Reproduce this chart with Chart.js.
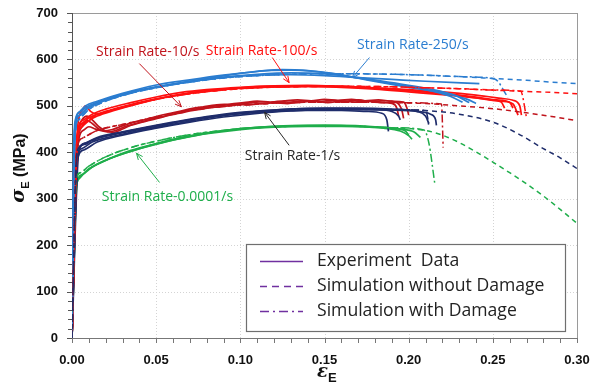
<!DOCTYPE html>
<html>
<head>
<meta charset="utf-8">
<script src="https://cdn.jsdelivr.net/npm/chart.js@4.4.1/dist/chart.umd.min.js"></script>
<style>html,body{margin:0;padding:0;background:#fff}</style>
</head>
<body>
<canvas id="chart" width="597" height="389"></canvas>
<script>
// axes
const xTicks = [0, 0.05, 0.10, 0.15, 0.20, 0.25, 0.30];
const yTicks = [0, 100, 200, 300, 400, 500, 600, 700];

// Strain rate 0.0001/s (green)
const green_exp1 = [[0,0],[0.0024,325],[0.004,342],[0.008,358],[0.015,374],[0.025,390],[0.04,408],[0.055,422],[0.07,434],[0.085,444],[0.1,451],[0.115,455],[0.13,457],[0.15,458],[0.17,456],[0.185,452],[0.195,446],[0.2,436],[0.202,428]];
const green_exp2 = [[0,0],[0.0028,330],[0.005,348],[0.01,364],[0.02,383],[0.035,402],[0.05,418],[0.065,430],[0.08,440],[0.1,449],[0.12,454],[0.14,456],[0.16,456],[0.18,454],[0.195,450],[0.203,444],[0.207,432]];
const green_exp3 = [[0,0],[0.003,335],[0.006,352],[0.012,368],[0.022,386],[0.035,404],[0.05,419],[0.065,432],[0.08,442],[0.1,451],[0.12,456],[0.14,458],[0.16,458],[0.18,455],[0.19,452],[0.198,446],[0.2,437]];
const green_sim = [[0,0],[0.0025,340],[0.005,356],[0.01,370],[0.02,390],[0.035,410],[0.05,424],[0.07,438],[0.09,447],[0.11,453],[0.13,456],[0.15,457],[0.17,456],[0.19,453],[0.21,447],[0.22,437],[0.23,421],[0.24,401],[0.25,379],[0.26,356],[0.27,332],[0.28,306],[0.29,277],[0.30,247]];
const green_dmg = [[0,0],[0.0025,340],[0.005,356],[0.01,370],[0.02,390],[0.035,410],[0.05,424],[0.07,438],[0.09,447],[0.11,453],[0.13,456],[0.15,457],[0.17,456],[0.19,453],[0.209,448],[0.212,420],[0.2155,333]];

// Strain rate 1/s (navy)
const navy_exp1 = [[0,0],[0.003,385],[0.006,408],[0.012,422],[0.025,435],[0.04,447],[0.055,457],[0.07,467],[0.085,476],[0.1,483],[0.12,488],[0.14,490],[0.16,490],[0.175,488],[0.184,484],[0.187,470],[0.188,445]];
const navy_exp2 = [[0,0],[0.0035,395],[0.007,418],[0.015,432],[0.03,444],[0.045,455],[0.06,465],[0.08,477],[0.1,486],[0.12,491],[0.14,494],[0.16,494],[0.18,492],[0.19,488],[0.194,478],[0.195,470]];
const navy_exp3 = [[0,0],[0.004,400],[0.008,420],[0.015,430],[0.03,442],[0.05,456],[0.07,470],[0.09,480],[0.11,488],[0.13,493],[0.15,495],[0.17,495],[0.19,493],[0.205,488],[0.21,478],[0.212,462]];
const navy_exp4 = [[0,0],[0.003,380],[0.007,405],[0.015,422],[0.03,437],[0.05,452],[0.07,465],[0.09,476],[0.11,484],[0.13,489],[0.15,492],[0.17,492],[0.19,491],[0.205,488],[0.213,482],[0.216,470],[0.2165,458]];
const navy_sim = [[0,0],[0.003,400],[0.006,415],[0.015,430],[0.03,443],[0.05,457],[0.07,470],[0.09,480],[0.11,487],[0.13,491],[0.15,493],[0.17,493],[0.19,492],[0.21,490],[0.23,482],[0.25,465],[0.265,440],[0.28,408],[0.29,388],[0.30,365]];
const navy_dmg = [[0,0],[0.003,400],[0.006,415],[0.015,430],[0.03,443],[0.05,457],[0.07,470],[0.09,480],[0.11,487],[0.13,491],[0.15,493],[0.17,493],[0.19,492],[0.21,490],[0.2115,470],[0.212,453]];

// Strain rate 10/s (dark red)
const dred_exp1 = [[0,0],[0.003,420],[0.006,470],[0.009,478],[0.012,470],[0.016,455],[0.02,446],[0.025,443],[0.03,450],[0.036,460],[0.042,466],[0.05,474],[0.055,478],[0.06,482],[0.066,488],[0.072,492],[0.078,496],[0.085,500],[0.092,502],[0.1,504],[0.108,507],[0.115,505],[0.122,509],[0.13,508],[0.138,511],[0.146,509],[0.154,512],[0.162,510],[0.17,513],[0.178,509],[0.186,511],[0.193,507],[0.196,490],[0.197,473]];
const dred_exp2 = [[0,0],[0.003,410],[0.006,455],[0.009,468],[0.012,462],[0.016,450],[0.021,444],[0.026,447],[0.032,456],[0.038,461],[0.045,468],[0.052,474],[0.058,480],[0.064,484],[0.07,489],[0.077,493],[0.084,497],[0.091,499],[0.098,503],[0.105,502],[0.112,505],[0.12,507],[0.128,505],[0.136,508],[0.144,510],[0.152,507],[0.16,510],[0.168,508],[0.176,511],[0.184,507],[0.19,505],[0.193,495],[0.194,478]];
const dred_exp3 = [[0,0],[0.0035,415],[0.007,448],[0.01,455],[0.014,450],[0.019,446],[0.024,449],[0.03,457],[0.036,464],[0.043,470],[0.05,477],[0.057,483],[0.064,488],[0.071,494],[0.078,498],[0.086,502],[0.094,504],[0.102,507],[0.11,510],[0.118,508],[0.126,511],[0.134,513],[0.142,511],[0.15,514],[0.158,512],[0.166,514],[0.174,511],[0.182,513],[0.19,510],[0.197,508],[0.199,495],[0.2,480]];
const dred_sim = [[0,0],[0.003,405],[0.006,430],[0.015,447],[0.03,460],[0.05,476],[0.07,490],[0.09,499],[0.11,504],[0.13,507],[0.15,508],[0.17,508],[0.19,507],[0.21,505],[0.23,500],[0.25,494],[0.27,485],[0.285,477],[0.30,468]];
const dred_dmg = [[0,0],[0.003,405],[0.006,430],[0.015,447],[0.03,460],[0.05,476],[0.07,490],[0.09,499],[0.11,504],[0.13,507],[0.15,508],[0.17,508],[0.19,507],[0.2195,504],[0.2205,410]];

// Strain rate 100/s (red)
const red_exp1 = [[0,0],[0.003,420],[0.006,455],[0.01,468],[0.015,478],[0.025,490],[0.04,505],[0.055,518],[0.07,528],[0.085,534],[0.1,539],[0.115,542],[0.13,543],[0.15,543],[0.17,540],[0.19,536],[0.21,530],[0.23,522],[0.245,515],[0.255,510],[0.262,504],[0.265,480]];
const red_exp2 = [[0,0],[0.003,430],[0.006,462],[0.01,474],[0.02,488],[0.035,503],[0.05,515],[0.065,525],[0.08,532],[0.1,538],[0.12,541],[0.14,542],[0.16,540],[0.18,536],[0.2,530],[0.22,524],[0.24,517],[0.25,512],[0.255,508],[0.257,495]];
const red_exp3 = [[0,0],[0.0035,440],[0.007,470],[0.012,482],[0.02,493],[0.035,507],[0.05,519],[0.065,529],[0.08,535],[0.1,540],[0.12,543],[0.14,544],[0.16,542],[0.18,539],[0.2,535],[0.22,530],[0.24,523],[0.255,516],[0.262,512],[0.266,500],[0.267,480]];
const red_exp4 = [[0,0],[0.003,440],[0.006,490],[0.008,500],[0.011,488],[0.015,482],[0.025,492],[0.04,506],[0.055,518],[0.07,527],[0.085,533],[0.1,538],[0.12,541],[0.14,542],[0.16,541],[0.18,538],[0.2,533],[0.22,527],[0.24,519],[0.252,513],[0.26,508],[0.262,495]];
const red_sim = [[0,0],[0.003,430],[0.006,460],[0.015,480],[0.03,497],[0.05,514],[0.07,526],[0.09,534],[0.11,539],[0.13,541],[0.15,542],[0.17,542],[0.19,541],[0.21,539],[0.23,537],[0.25,534],[0.27,531],[0.285,529],[0.30,526]];
const red_dmg = [[0,0],[0.003,430],[0.006,460],[0.015,480],[0.03,497],[0.05,514],[0.07,526],[0.09,534],[0.11,539],[0.13,541],[0.15,542],[0.17,542],[0.19,541],[0.21,539],[0.23,537],[0.25,534],[0.2665,532],[0.27,475]];

// Strain rate 250/s (blue)
const blue_exp1 = [[0,0],[0.001,380],[0.002,460],[0.004,478],[0.008,492],[0.015,505],[0.025,520],[0.04,533],[0.055,543],[0.07,553],[0.085,562],[0.1,570],[0.115,576],[0.13,577],[0.145,574],[0.16,566],[0.175,556],[0.19,546],[0.205,537],[0.22,528],[0.235,514],[0.24,505]];
const blue_exp2 = [[0,0],[0.002,455],[0.005,480],[0.01,497],[0.02,512],[0.035,528],[0.05,540],[0.07,552],[0.09,561],[0.11,566],[0.13,567],[0.15,565],[0.17,561],[0.19,557],[0.21,553],[0.242,548]];
const blue_exp3 = [[0,0],[0.0015,440],[0.004,485],[0.008,500],[0.015,510],[0.03,527],[0.05,545],[0.07,556],[0.09,566],[0.11,574],[0.125,578],[0.14,576],[0.155,570],[0.17,560],[0.19,548],[0.21,535],[0.225,520],[0.232,508]];
const blue_exp4 = [[0,0],[0.001,400],[0.002,470],[0.005,488],[0.01,500],[0.02,514],[0.035,530],[0.05,541],[0.07,553],[0.09,562],[0.11,568],[0.13,571],[0.15,569],[0.17,561],[0.19,550],[0.21,538],[0.228,522],[0.236,507]];
const blue_sim = [[0,0],[0.002,440],[0.004,470],[0.01,492],[0.02,510],[0.035,527],[0.05,539],[0.07,551],[0.09,560],[0.11,565],[0.13,568],[0.15,569],[0.17,569],[0.19,568],[0.21,566],[0.23,563],[0.25,559],[0.27,555],[0.285,551],[0.30,548]];
const blue_dmg = [[0,0],[0.002,440],[0.004,470],[0.01,492],[0.02,510],[0.035,527],[0.05,539],[0.07,551],[0.09,560],[0.11,565],[0.13,568],[0.15,569],[0.17,569],[0.19,568],[0.21,566],[0.23,563],[0.251,558],[0.259,518]];

const legendLabels = ["Experiment  Data", "Simulation without Damage", "Simulation with Damage"];

// colours
const C_GREEN = "#1fae4b", C_NAVY = "#1f2d6b", C_DRED = "#c0141c", C_RED = "#ff1010", C_BLUE = "#2b7dd0";
const C_LEGEND = "#7030a0";

// annotations: text, colour, label centre, arrow from -> to (data units)
const notes = [
    { text: "Strain Rate-10/s", color: C_DRED, at: [0.045, 615], from: [0.040, 591], to: [0.065, 498] },
    { text: "Strain Rate-100/s", color: C_RED, at: [0.1126, 619], from: [0.119, 604], to: [0.129, 550] },
    { text: "Strain Rate-250/s", color: C_BLUE, at: [0.2025, 632], from: [0.1767, 604], to: [0.1666, 561] },
    { text: "Strain Rate-1/s", color: "#262626", at: [0.131, 393], from: [0.129, 415], to: [0.1144, 486] },
    { text: "Strain Rate-0.0001/s", color: C_GREEN, at: [0.0567, 303], from: [0.052, 335], to: [0.0383, 398] }
];

const DASH = { exp: [], sim: [5, 4], dmg: [8, 3, 2, 3] };
function serie(points, color, kind) {
    return {
        data: points.map(p => ({ x: p[0], y: p[1] })),
        borderColor: color,
        borderWidth: kind === "exp" ? 1.7 : 1.5,
        borderDash: DASH[kind],
        pointRadius: 0,
        fill: false,
        cubicInterpolationMode: "monotone"
    };
}

const datasets = [
    serie(navy_sim, C_NAVY, "sim"), serie(navy_dmg, C_NAVY, "dmg"),
    serie(dred_sim, C_DRED, "sim"), serie(dred_dmg, C_DRED, "dmg"),
    serie(red_sim, C_RED, "sim"), serie(red_dmg, C_RED, "dmg"),
    serie(blue_sim, C_BLUE, "sim"), serie(blue_dmg, C_BLUE, "dmg"),
    serie(green_sim, C_GREEN, "sim"), serie(green_dmg, C_GREEN, "dmg"),
    serie(blue_exp1, C_BLUE, "exp"), serie(blue_exp2, C_BLUE, "exp"), serie(blue_exp3, C_BLUE, "exp"), serie(blue_exp4, C_BLUE, "exp"),
    serie(red_exp1, C_RED, "exp"), serie(red_exp2, C_RED, "exp"), serie(red_exp3, C_RED, "exp"), serie(red_exp4, C_RED, "exp"),
    serie(navy_exp1, C_NAVY, "exp"), serie(navy_exp2, C_NAVY, "exp"), serie(navy_exp3, C_NAVY, "exp"), serie(navy_exp4, C_NAVY, "exp"),
    serie(dred_exp1, C_DRED, "exp"), serie(dred_exp2, C_DRED, "exp"), serie(dred_exp3, C_DRED, "exp"),
    serie(green_exp1, C_GREEN, "exp"), serie(green_exp2, C_GREEN, "exp"), serie(green_exp3, C_GREEN, "exp")
];

// grille, cadre et graduations
const framePlugin = {
    id: "frame",
    beforeDatasetsDraw(chart) {
        const { ctx, chartArea: a, scales: { x, y } } = chart;
        ctx.save();
        ctx.strokeStyle = "#d4d4d4";
        ctx.lineWidth = 1;
        ctx.setLineDash([1, 2]);
        xTicks.slice(1, -1).forEach(v => {
            const px = Math.round(x.getPixelForValue(v)) + 0.5;
            ctx.beginPath(); ctx.moveTo(px, a.top); ctx.lineTo(px, a.bottom); ctx.stroke();
        });
        yTicks.slice(1, -1).forEach(v => {
            const py = Math.round(y.getPixelForValue(v)) + 0.5;
            ctx.beginPath(); ctx.moveTo(a.left, py); ctx.lineTo(a.right, py); ctx.stroke();
        });
        ctx.setLineDash([]);
        ctx.strokeStyle = "#9a9a9a";
        ctx.strokeRect(a.left + 0.5, a.top + 0.5, a.right - a.left, a.bottom - a.top);
        ctx.strokeStyle = "#555";
        ctx.beginPath();
        ctx.moveTo(a.left + 0.5, a.top); ctx.lineTo(a.left + 0.5, a.bottom + 0.5);
        for (let v = 0; v <= 700; v += 20) {
            const py = Math.round(y.getPixelForValue(v)) + 0.5;
            ctx.moveTo(a.left - (v % 100 ? 4 : 5), py); ctx.lineTo(a.left, py);
        }
        ctx.stroke();
        ctx.strokeStyle = "#777";
        ctx.beginPath();
        ctx.moveTo(a.left, a.bottom + 0.5); ctx.lineTo(a.right, a.bottom + 0.5);
        for (let i = 0; i <= 30; i++) {
            const px = Math.round(x.getPixelForValue(i / 100)) + 0.5;
            ctx.moveTo(px, a.bottom); ctx.lineTo(px, a.bottom + 5);
        }
        ctx.stroke();
        ctx.restore();
    }
};

function arrow(ctx, x1, y1, x2, y2, color) {
    const ang = Math.atan2(y2 - y1, x2 - x1);
    ctx.strokeStyle = color;
    ctx.lineWidth = 1;
    ctx.beginPath(); ctx.moveTo(x1, y1); ctx.lineTo(x2, y2); ctx.stroke();
    ctx.beginPath();
    ctx.moveTo(x2, y2);
    ctx.lineTo(x2 - 7 * Math.cos(ang - 0.4), y2 - 7 * Math.sin(ang - 0.4));
    ctx.moveTo(x2, y2);
    ctx.lineTo(x2 - 7 * Math.cos(ang + 0.4), y2 - 7 * Math.sin(ang + 0.4));
    ctx.stroke();
}

// textes, fleches, legende, titres d'axes
const overlayPlugin = {
    id: "overlay",
    afterDraw(chart) {
        const { ctx, scales: { x, y } } = chart;
        ctx.save();
        ctx.font = "14px 'Open Sans'";
        ctx.textAlign = "center";
        ctx.textBaseline = "middle";
        notes.forEach(n => {
            ctx.fillStyle = n.color;
            ctx.fillText(n.text, x.getPixelForValue(n.at[0]), y.getPixelForValue(n.at[1]));
            arrow(ctx, x.getPixelForValue(n.from[0]), y.getPixelForValue(n.from[1]),
                x.getPixelForValue(n.to[0]), y.getPixelForValue(n.to[1]), n.color);
        });

        // legende
        ctx.fillStyle = "#fff";
        ctx.fillRect(246, 244, 319, 87);
        ctx.strokeStyle = "#6f6f6f";
        ctx.lineWidth = 1.2;
        ctx.strokeRect(246.5, 244.5, 319, 87);
        ctx.textAlign = "left";
        ctx.font = "17.6px 'Open Sans'";
        legendLabels.forEach((lbl, i) => {
            const ly = 261 + i * 25;
            ctx.strokeStyle = C_LEGEND;
            ctx.lineWidth = 1.6;
            ctx.setLineDash(i === 0 ? [] : i === 1 ? [7, 5] : [9, 4, 2, 4]);
            ctx.beginPath(); ctx.moveTo(260, ly + 0.5); ctx.lineTo(303, ly + 0.5); ctx.stroke();
            ctx.setLineDash([]);
            ctx.fillStyle = "#222";
            ctx.fillText(lbl, 317, ly);
        });

        // titre axe y
        ctx.fillStyle = "#111";
        ctx.translate(21, 168);
        ctx.rotate(-Math.PI / 2);
        ctx.textBaseline = "middle";
        ctx.textAlign = "left";
        ctx.font = "italic bold 19px 'DejaVu Serif'";
        const w1 = ctx.measureText("σ").width;
        ctx.font = "bold 11px 'Liberation Sans'";
        const w2 = ctx.measureText("E").width;
        ctx.font = "bold 16px 'Liberation Sans'";
        const w3 = ctx.measureText(" (MPa)").width;
        let sx = -(w1 + w2 + w3) / 2;
        ctx.font = "italic bold 19px 'DejaVu Serif'";
        ctx.fillText("σ", sx, -2);
        ctx.font = "bold 11px 'Liberation Sans'";
        ctx.fillText("E", sx + w1, 5);
        ctx.font = "bold 16px 'Liberation Sans'";
        ctx.fillText(" (MPa)", sx + w1 + w2, 0);
        ctx.setTransform(1, 0, 0, 1, 0, 0);

        // titre axe x
        ctx.font = "italic bold 18px 'DejaVu Serif'";
        ctx.textAlign = "left";
        const we = ctx.measureText("ε").width;
        ctx.fillText("ε", 317, 372);
        ctx.font = "bold 13px 'Liberation Sans'";
        ctx.fillText("E", 317 + we, 378);
        ctx.restore();
    }
};

new Chart(document.getElementById("chart"), {
    type: "line",
    data: { datasets },
    options: {
        responsive: false,
        animation: false,
        devicePixelRatio: 1,
        layout: { padding: { left: 0, top: 13, right: 20, bottom: 0 } },
        plugins: { legend: { display: false }, tooltip: { enabled: false } },
        scales: {
            x: {
                type: "linear", min: 0, max: 0.30,
                afterBuildTicks: s => { s.ticks = xTicks.map(v => ({ value: v })); },
                afterFit: s => { s.height = 51; s.paddingLeft = 0; s.paddingRight = 0; },
                grid: { display: false, drawTicks: false },
                border: { display: false },
                ticks: {
                    padding: 15, color: "#111",
                    font: { family: "'Liberation Sans'", weight: "bold", size: 13 },
                    callback: v => v.toFixed(2)
                }
            },
            y: {
                type: "linear", min: 0, max: 700,
                afterBuildTicks: s => { s.ticks = yTicks.map(v => ({ value: v })); },
                afterFit: s => { s.width = 72; s.paddingTop = 0; s.paddingBottom = 0; },
                grid: { display: false, drawTicks: false },
                border: { display: false },
                ticks: {
                    padding: 14, color: "#111",
                    font: { family: "'Liberation Sans'", weight: "bold", size: 13 }
                }
            }
        }
    },
    plugins: [framePlugin, overlayPlugin]
});
</script>
</body>
</html>
